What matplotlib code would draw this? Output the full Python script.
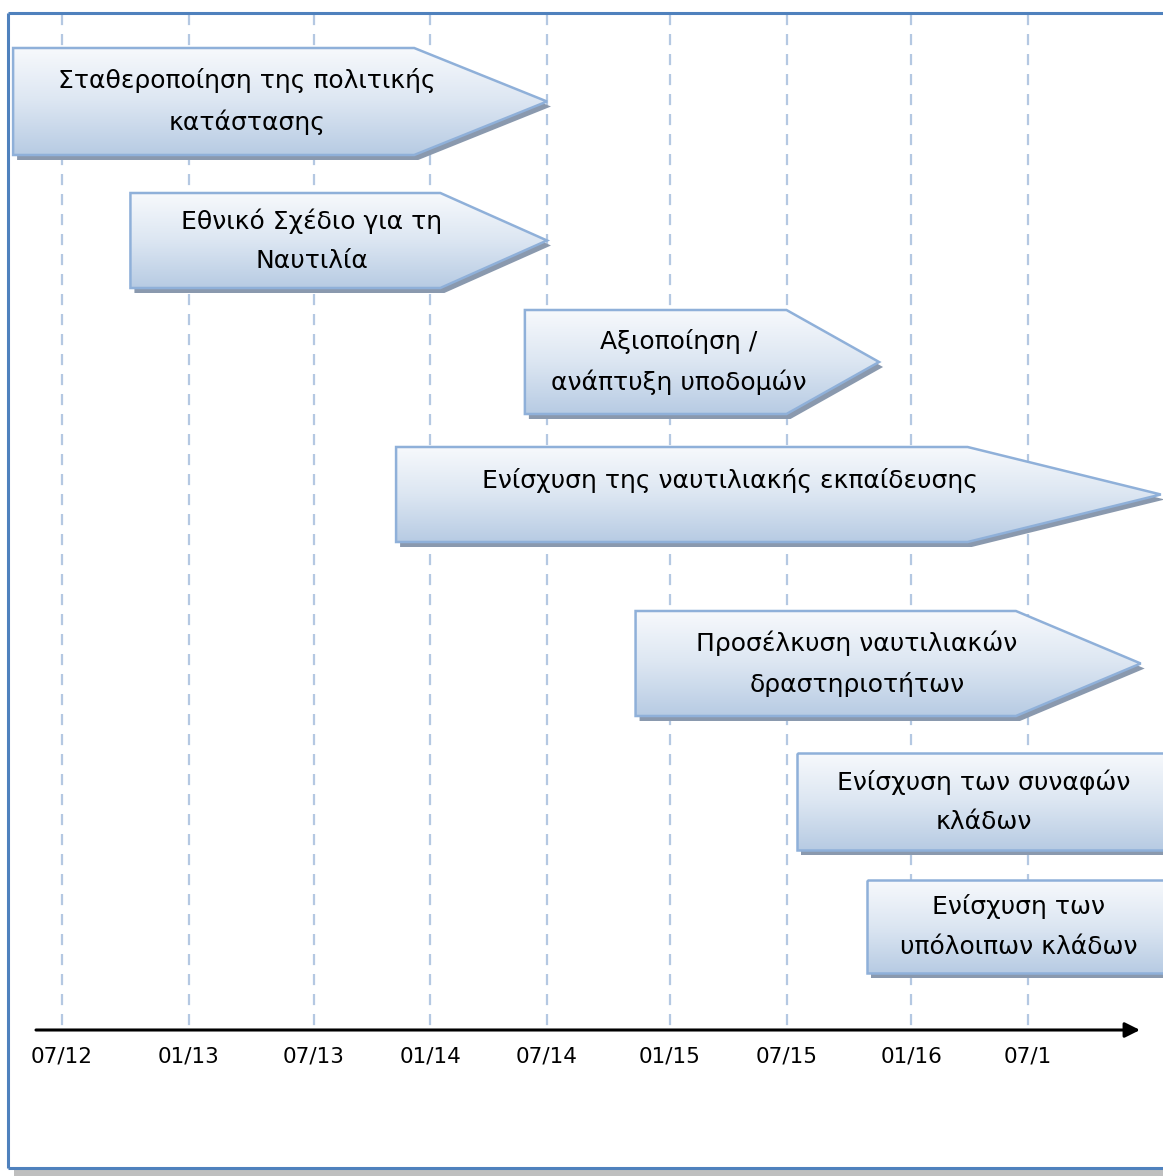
import numpy as np
import matplotlib.pyplot as plt
from matplotlib.patches import Polygon
from matplotlib.colors import LinearSegmentedColormap

# timeline ticks (months counted from 07/2012, as placed on the drawing)
tick_months = [0, 6.3, 12.5, 18.3, 24.1, 30.2, 36.0, 42.2, 48.0]
tick_labels = ['07/12', '01/13', '07/13', '01/14', '07/14', '01/15', '07/15', '01/16', '07/1']

# tasks: start month, month where the arrow point begins (None = plain box), end month
task_names = [
    'Σταθεροποίηση της πολιτικής\nκατάστασης',
    'Εθνικό Σχέδιο για τη\nΝαυτιλία',
    'Αξιοποίηση /\nανάπτυξη υποδομών',
    'Ενίσχυση της ναυτιλιακής εκπαίδευσης',
    'Προσέλκυση ναυτιλιακών\nδραστηριοτήτων',
    'Ενίσχυση των συναφών\nκλάδων',
    'Ενίσχυση των\nυπόλοιπων κλάδων',
]
task_start = [-2.43, 3.4, 23.0, 16.6, 28.5, 36.5, 40.0]
task_head = [17.5, 18.8, 36.0, 45.0, 47.4, None, None]
task_end = [24.1, 24.1, 40.6, 54.6, 53.6, 55.1, 55.1]

# layout (pixel rows of each bar)
row_top = [48, 193, 310, 447, 611, 753, 880]
row_bot = [155, 288, 414, 542, 716, 850, 973]

W, H = 1163, 1176
x0, px_month = 62, 20.125

fig = plt.figure(figsize=(W / 100, H / 100), dpi=100)
ax = fig.add_axes([0, 0, 1, 1])
ax.axis('off')

def mx(px):
    return (px - x0) / px_month

cmap = LinearSegmentedColormap.from_list('g', ['#f7f9fc', '#dce6f2', '#b7cbe3'])
grad = np.linspace(0, 1, 256).reshape(-1, 1)

# outer frame
ax.plot([mx(8), mx(8)], [13, 1168], color='#4f81bd', lw=2.2, zorder=6, solid_capstyle='butt')
ax.plot([mx(8), mx(W + 5)], [13, 13], color='#4f81bd', lw=2.2, zorder=6, solid_capstyle='butt')
ax.plot([mx(8), mx(W + 5)], [1168, 1168], color='#4f81bd', lw=2.2, zorder=6, solid_capstyle='butt')
ax.fill_between([mx(14), mx(W + 5)], 1170, 1177, color='#bfbfbf', lw=0, zorder=1)

# dashed grid
for m in tick_months:
    ax.plot([m, m], [14, 1028], color='#b4c8e2', lw=1.6, ls=(0, (5, 4)), zorder=1)

# bars / arrows
for name, s, h, e, top, bot in zip(task_names, task_start, task_head, task_end, row_top, row_bot):
    mid = (top + bot) / 2
    if h is None:
        verts = [(s, top), (e, top), (e, bot), (s, bot)]
        tx = (s + e) / 2
    else:
        verts = [(s, top), (h, top), (e, mid), (h, bot), (s, bot)]
        tx = (s + (h + e) / 2) / 2
    verts = np.array(verts)
    sh = verts + np.array([4 / px_month, 5])
    ax.add_patch(Polygon(sh, closed=True, fc='#8a99ae', ec='none', zorder=2))
    body = Polygon(verts, closed=True, fc='none', ec='none', zorder=3)
    ax.add_patch(body)
    im = ax.imshow(grad, cmap=cmap, extent=(s, e, bot, top), aspect='auto',
                   origin='upper', zorder=3, interpolation='bilinear')
    im.set_clip_path(body)
    ax.add_patch(Polygon(verts, closed=True, fill=False, ec='#8fb0d9', lw=1.8, zorder=4))
    ty = mid if '\n' in name else mid - 14
    ax.text(tx, ty, name, ha='center', va='center', fontsize=18, linespacing=1.8,
            color='black', zorder=5)

# time axis
ax.annotate('', xy=(mx(1140), 1030), xytext=(mx(36), 1030),
            arrowprops=dict(arrowstyle='-|>,head_length=0.9,head_width=0.45', color='black',
                            lw=2.2, shrinkA=0, shrinkB=0), zorder=6)
for m, lab in zip(tick_months, tick_labels):
    ax.text(m, 1056, lab, ha='center', va='center', fontsize=15.5, color='black')

ax.set_xlim(mx(0), mx(W))
ax.set_ylim(H, 0)

fig.savefig('out.png', dpi=100)
